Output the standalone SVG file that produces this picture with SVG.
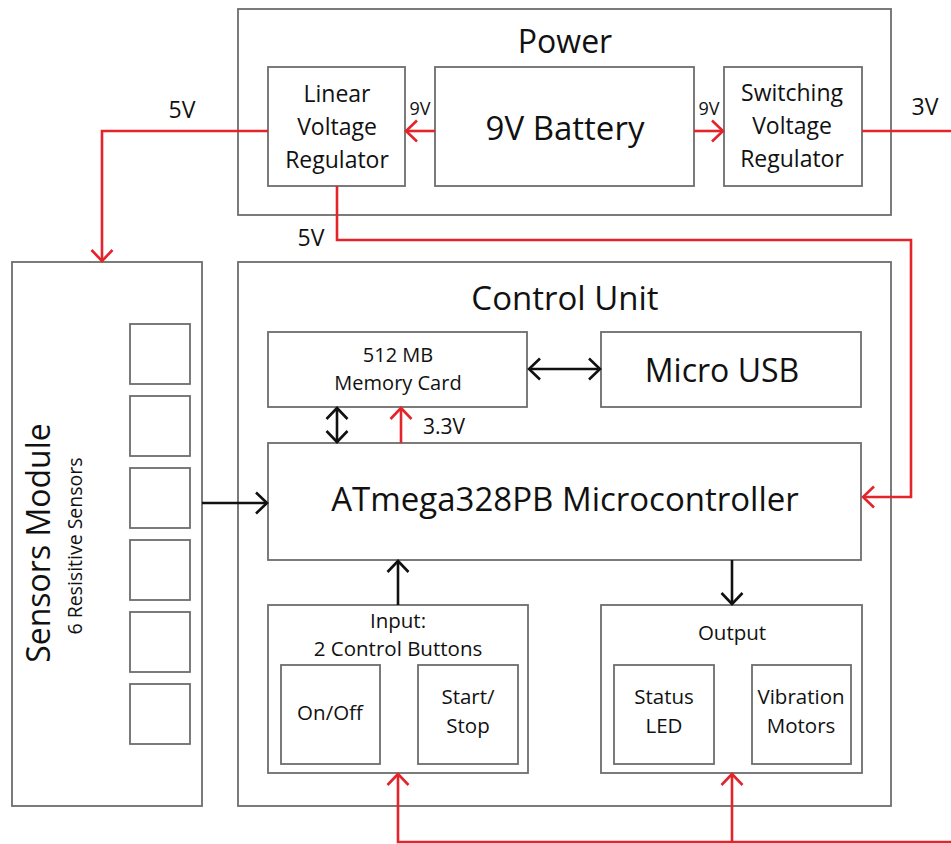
<svg xmlns="http://www.w3.org/2000/svg" width="951" height="844" viewBox="0 0 951 844">
<style>
.box{fill:#fff;stroke:#6d6d6d;stroke-width:1.8}
.t{font-family:"Open Sans","Liberation Sans",sans-serif;fill:#111;text-anchor:middle}
.red{fill:none;stroke:#e3242b;stroke-width:2.6}
.blk{fill:none;stroke:#111;stroke-width:2.6}
</style>
<defs>
<marker id="ar" viewBox="0 0 16 24" refX="14" refY="12" markerWidth="16" markerHeight="24" markerUnits="userSpaceOnUse" orient="auto-start-reverse">
<path d="M3,1.5 L14,12 L3,22.5" fill="none" stroke="#e3242b" stroke-width="2.6"/>
</marker>
<marker id="ab" viewBox="0 0 16 24" refX="14" refY="12" markerWidth="16" markerHeight="24" markerUnits="userSpaceOnUse" orient="auto-start-reverse">
<path d="M3,1.5 L14,12 L3,22.5" fill="none" stroke="#111" stroke-width="2.6"/>
</marker>
</defs>
<rect width="951" height="844" fill="#fff"/>

<g id="power">
<rect class="box" x="238" y="9" width="653" height="206"/>
<text class="t" x="565" y="53" font-size="32">Power</text>
</g>
<g id="linear-regulator">
<rect class="box" x="268" y="67" width="137" height="119"/>
<text class="t" x="337" y="102" font-size="23">Linear</text>
<text class="t" x="337" y="135" font-size="23">Voltage</text>
<text class="t" x="337" y="168" font-size="23">Regulator</text>
</g>
<g id="battery">
<rect class="box" x="435" y="67" width="259" height="119"/>
<text class="t" x="565" y="140" font-size="33">9V Battery</text>
</g>
<g id="switching-regulator">
<rect class="box" x="724" y="67" width="138" height="119"/>
<text class="t" x="792" y="101" font-size="23">Switching</text>
<text class="t" x="792" y="134" font-size="23">Voltage</text>
<text class="t" x="792" y="167" font-size="23">Regulator</text>
</g>

<g id="sensors-module">
<rect class="box" x="12" y="262" width="190" height="544"/>
<text class="t" font-size="32" transform="translate(50,543) rotate(-90)">Sensors Module</text>
<text class="t" font-size="19.5" transform="translate(82,546) rotate(-90)">6 Resisitive Sensors</text>
<rect class="box" x="130" y="324" width="60" height="60"/>
<rect class="box" x="130" y="396" width="60" height="60"/>
<rect class="box" x="130" y="468" width="60" height="60"/>
<rect class="box" x="130" y="540" width="60" height="60"/>
<rect class="box" x="130" y="612" width="60" height="60"/>
<rect class="box" x="130" y="684" width="60" height="60"/>
</g>

<g id="control-unit">
<rect class="box" x="238" y="262" width="653" height="544"/>
<text class="t" x="565" y="310" font-size="33">Control Unit</text>
</g>
<g id="memory-card">
<rect class="box" x="268" y="332" width="259" height="75"/>
<text class="t" x="398" y="362" font-size="20">512 MB</text>
<text class="t" x="398" y="390" font-size="20">Memory Card</text>
</g>
<g id="micro-usb">
<rect class="box" x="601" y="332" width="260" height="75"/>
<text class="t" x="722" y="382" font-size="32">Micro USB</text>
</g>
<g id="microcontroller">
<rect class="box" x="268" y="443" width="593" height="117"/>
<text class="t" x="565" y="511" font-size="33">ATmega328PB Microcontroller</text>
</g>
<g id="input">
<rect class="box" x="268" y="605" width="260" height="168"/>
<text class="t" x="398" y="628" font-size="20.5">Input:</text>
<text class="t" x="398" y="656" font-size="20.5">2 Control Buttons</text>
</g>
<g id="on-off">
<rect class="box" x="281" y="665" width="99" height="99"/>
<text class="t" x="330" y="720" font-size="20.5">On/Off</text>
</g>
<g id="start-stop">
<rect class="box" x="418" y="665" width="100" height="99"/>
<text class="t" x="468" y="704" font-size="20.5">Start/</text>
<text class="t" x="468" y="733" font-size="20.5">Stop</text>
</g>
<g id="output">
<rect class="box" x="601" y="605" width="261" height="168"/>
<text class="t" x="732" y="640" font-size="20.5">Output</text>
</g>
<g id="status-led">
<rect class="box" x="614" y="665" width="100" height="99"/>
<text class="t" x="664" y="704" font-size="20.5">Status</text>
<text class="t" x="664" y="733" font-size="20.5">LED</text>
</g>
<g id="vibration-motors">
<rect class="box" x="752" y="665" width="99" height="99"/>
<text class="t" x="801" y="704" font-size="20.5">Vibration</text>
<text class="t" x="801" y="733" font-size="20.5">Motors</text>
</g>

<g id="connectors">
<path class="red" d="M268,131 H102 V261" marker-end="url(#ar)"/>
<path class="red" d="M337,186 V240 H911 V497 H863" marker-end="url(#ar)"/>
<path class="red" d="M435,131 H406" marker-end="url(#ar)"/>
<path class="red" d="M694,131 H723" marker-end="url(#ar)"/>
<path class="red" d="M862,131 H951"/>
<path class="red" d="M951,842 H398 V774" marker-end="url(#ar)"/>
<path class="red" d="M732,842 V774" marker-end="url(#ar)"/>
<path class="red" d="M401,443 V408" marker-end="url(#ar)"/>
<path class="blk" d="M529,369 H600" marker-start="url(#ab)" marker-end="url(#ab)"/>
<path class="blk" d="M337,408 V442" marker-start="url(#ab)" marker-end="url(#ab)"/>
<path class="blk" d="M202,503 H267" marker-end="url(#ab)"/>
<path class="blk" d="M398,605 V561" marker-end="url(#ab)"/>
<path class="blk" d="M732,560 V604" marker-end="url(#ab)"/>
<text class="t" x="182" y="118" font-size="23">5V</text>
<text class="t" x="311" y="246" font-size="23">5V</text>
<text class="t" x="925" y="115" font-size="23">3V</text>
<text class="t" x="420" y="115" font-size="18">9V</text>
<text class="t" x="709" y="115" font-size="18">9V</text>
<text class="t" x="444" y="434" font-size="21">3.3V</text>
</g>
</svg>
